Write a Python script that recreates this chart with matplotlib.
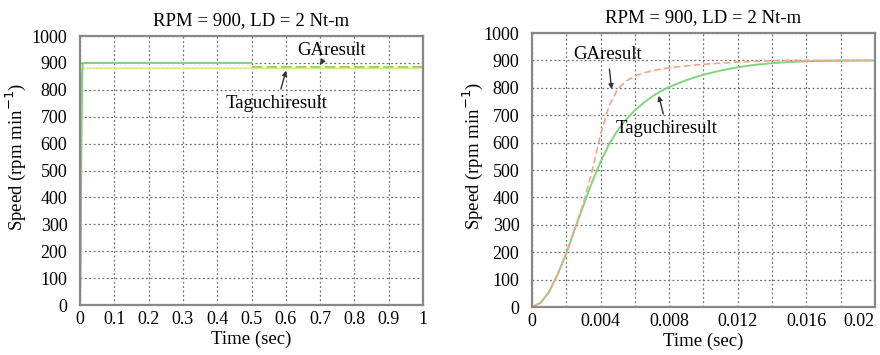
import matplotlib
matplotlib.use('Agg')
from matplotlib import pyplot as plt
from matplotlib.ticker import MultipleLocator

plt.rcParams['font.family'] = ['Liberation Serif', 'DejaVu Serif']

# left panel: full 1 s run
t_taguchi_l = [0, 0.002, 0.004, 0.006, 0.008, 0.5, 0.5, 1.0]
v_taguchi_l = [0, 200, 620, 850, 900, 900, 885, 885]
t_ga_l = [0, 0.002, 0.004, 0.006, 0.008, 1.0]
v_ga_l = [0, 200, 640, 860, 880, 880]

# right panel: first 0.02 s
t_r = [0, 0.0005, 0.001, 0.0015, 0.002, 0.0025, 0.003, 0.0035, 0.004, 0.0045,
       0.005, 0.0055, 0.006, 0.0065, 0.007, 0.0075, 0.008, 0.009, 0.010,
       0.011, 0.012, 0.013, 0.014, 0.015, 0.016, 0.018, 0.02]
v_ga_r = [0, 15, 55, 120, 195, 285, 380, 495, 630, 735,
          795, 825, 843, 854, 862, 868, 873, 880, 886,
          890, 894, 897, 899, 900, 900, 900, 900]
v_taguchi_r = [0, 15, 55, 120, 195, 285, 370, 455, 530, 595,
               645, 685, 718, 745, 768, 787, 803, 828, 848,
               863, 875, 884, 890, 894, 897, 899, 900]

title = 'RPM = 900, LD = 2 Nt-m'
ylab = 'Speed (rpm min$^{-1}$)'

fig = plt.figure(figsize=(8.8, 3.55), dpi=100)
ax1 = fig.add_axes([0.0909, 0.1408, 0.3898, 0.7577])
ax2 = fig.add_axes([0.6045, 0.1352, 0.3898, 0.7718])

green = '#7fd67f'

ax1.plot(t_ga_l, v_ga_l, color='#e6e68a', lw=1.3)
ax1.plot(t_taguchi_l[:6], v_taguchi_l[:6], color=green, lw=1.5)
ax1.plot(t_taguchi_l[6:], v_taguchi_l[6:], color='#9fd66a', lw=1.5, ls=(0, (5, 2)))

ax2.plot(t_r, v_taguchi_r, color=green, lw=1.4)
ax2.plot(t_r, v_ga_r, color='#f4a58a', lw=1.2, ls=(0, (4, 2)))

for ax in (ax1, ax2):
    ax.set_ylim(0, 1000)
    ax.yaxis.set_major_locator(MultipleLocator(100))
    ax.grid(True, which='both', color='#707070', ls=(0, (1.5, 2)), lw=0.9)
    ax.tick_params(which='both', length=0, labelsize=13)
    ax.tick_params(axis='y', pad=9)
    ax.tick_params(axis='x', pad=4)
    for s in ax.spines.values():
        s.set_color('#888888')
        s.set_linewidth(1.6)
    ax.set_title(title, fontsize=13.5, pad=8)
    ax.set_xlabel('Time (sec)', fontsize=13.5, labelpad=2)
    ax.set_ylabel(ylab, fontsize=13.5)

ax1.set_xlim(0, 1)
ax1.set_xticks([0, 0.1, 0.2, 0.3, 0.4, 0.5, 0.6, 0.7, 0.8, 0.9, 1.0])
ax1.set_xticklabels(['0', '0.1', '0.2', '0.3', '0.4', '0.5', '0.6', '0.7',
                     '0.8', '0.9', '1'])
ax1.yaxis.set_label_coords(-0.152, 0.55)

ax2.set_xlim(0, 0.02)
ax2.set_xticks([0, 0.004, 0.008, 0.012, 0.016, 0.02])
ax2.set_xticklabels(['0', '0.004', '0.008', '0.012', '0.016', '0.02'])
ax2.get_xticklabels()[-1].set_horizontalalignment('right')
ax2.get_xticklabels()[-1].set_x(0.0201)
ax2.xaxis.set_minor_locator(MultipleLocator(0.002))
ax2.yaxis.set_label_coords(-0.137, 0.55)

arrow = dict(arrowstyle='-|>', color='#333333', lw=1.0, mutation_scale=7)
ax1.annotate('GAresult', xy=(0.694, 886), xytext=(0.732, 948),
             ha='center', va='center', fontsize=13.5, arrowprops=arrow)
ax1.annotate('Taguchiresult', xy=(0.603, 881), xytext=(0.574, 751),
             ha='center', va='center', fontsize=13.5, arrowprops=arrow)
ax2.annotate('GAresult', xy=(0.00466, 785), xytext=(0.00443, 920),
             ha='center', va='center', fontsize=13.5, arrowprops=arrow)
ax2.annotate('Taguchiresult', xy=(0.00735, 781), xytext=(0.00787, 653),
             ha='center', va='center', fontsize=13.5, arrowprops=arrow)

fig.savefig('out.png', dpi=100)
